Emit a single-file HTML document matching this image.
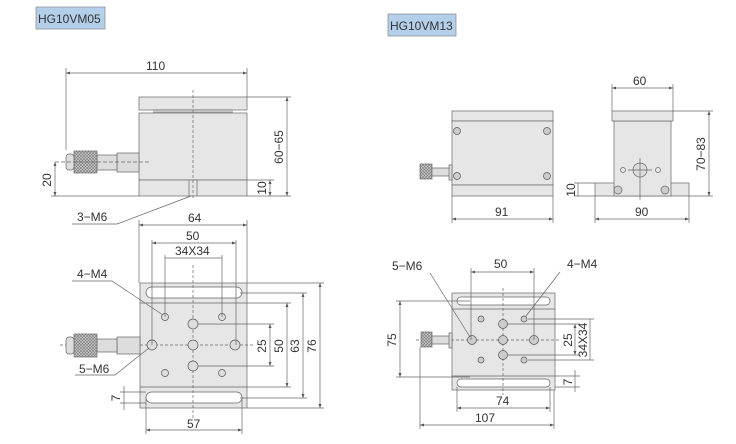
<!DOCTYPE html>
<html><head><meta charset="utf-8"><style>
html,body{margin:0;padding:0;background:#fff;}
svg{display:block;}
text{font-family:"Liberation Sans",sans-serif;font-size:12px;fill:#333;}
</style></head><body>
<svg width="736" height="444" viewBox="0 0 736 444" xmlns="http://www.w3.org/2000/svg">
<defs>
<marker id="a" viewBox="0 0 8 6" refX="8" refY="3" markerWidth="6" markerHeight="5" orient="auto-start-reverse"><path d="M0,0 L8,3 L0,6z" fill="#555"/></marker>
<pattern id="kn" width="3" height="3" patternUnits="userSpaceOnUse"><rect width="3" height="3" fill="#ccc"/><path d="M0,0L3,3M3,0L0,3" stroke="#777" stroke-width="0.6"/></pattern>
</defs>
<g stroke="#666" stroke-width="0.7" fill="none">
<!-- labels -->
<rect x="36" y="7" width="69" height="22" fill="#b4cfe9" stroke="#888"/>
<rect x="388" y="14" width="68" height="22" fill="#b4cfe9" stroke="#888"/>

<!-- LEFT TOP VIEW -->
<rect x="139" y="97" width="108" height="13" fill="#e6e6e6"/>
<line x1="153" y1="110" x2="233" y2="110"/><line x1="153" y1="112" x2="233" y2="112"/>
<rect x="139" y="113" width="108" height="67" fill="#e6e6e6"/>
<rect x="139" y="180" width="108" height="16" fill="#e6e6e6"/>
<line x1="193" y1="90" x2="193" y2="198" stroke-dasharray="3,2"/>
<line x1="189" y1="180" x2="189" y2="196"/><line x1="197" y1="180" x2="197" y2="196"/>
<!-- micrometer -->
<rect x="117" y="153" width="22" height="19" fill="#ddd"/>
<rect x="97" y="155" width="20" height="15" fill="#ddd"/>
<rect x="74" y="151" width="23" height="22" fill="url(#kn)"/>
<rect x="66" y="154" width="8" height="16" rx="3" fill="#ddd"/>
<line x1="55" y1="162" x2="150" y2="162" stroke-dasharray="4,2"/>
<!-- dims -->
<line x1="66" y1="73" x2="247" y2="73" marker-start="url(#a)" marker-end="url(#a)"/>
<line x1="66" y1="68" x2="66" y2="150"/><line x1="247" y1="68" x2="247" y2="97"/>
<line x1="287" y1="97" x2="287" y2="196" marker-start="url(#a)" marker-end="url(#a)"/>
<line x1="247" y1="97" x2="291" y2="97"/><line x1="247" y1="196" x2="291" y2="196"/>
<line x1="270" y1="180" x2="270" y2="196" marker-start="url(#a)" marker-end="url(#a)"/>
<line x1="247" y1="180" x2="274" y2="180"/>
<line x1="55" y1="162" x2="55" y2="196" marker-start="url(#a)" marker-end="url(#a)"/>
<line x1="51" y1="196" x2="139" y2="196"/>
<polyline points="72,224 117,224 191,196"/>

<!-- LEFT BOTTOM VIEW -->
<rect x="140" y="283" width="107" height="125" fill="#e6e6e6"/>
<line x1="140" y1="303" x2="247" y2="303"/><line x1="140" y1="387" x2="247" y2="387"/>
<rect x="146" y="287" width="96" height="11" rx="5.5" fill="#fff"/>
<rect x="146" y="392" width="96" height="11" rx="5.5" fill="#fff"/>
<line x1="193" y1="265" x2="193" y2="420" stroke-dasharray="3,2"/>
<line x1="60" y1="345" x2="255" y2="345" stroke-dasharray="3,2"/>
<rect x="117" y="337" width="23" height="17" fill="#ddd"/>
<rect x="97" y="339" width="20" height="13" fill="#ddd"/>
<rect x="74" y="334" width="23" height="23" fill="url(#kn)"/>
<rect x="66" y="337" width="8" height="17" rx="3" fill="#ddd"/>
<g fill="#ddd" stroke="#555">
<circle cx="165" cy="317" r="3.5"/><circle cx="222" cy="317" r="3.5"/><circle cx="165" cy="373" r="3.5"/><circle cx="222" cy="373" r="3.5"/>
<circle cx="193" cy="324" r="5"/><circle cx="193" cy="345" r="5"/><circle cx="193" cy="366" r="5"/><circle cx="152" cy="345" r="5"/><circle cx="235" cy="345" r="5"/>
</g>
<line x1="139" y1="225" x2="247" y2="225" marker-start="url(#a)" marker-end="url(#a)"/>
<line x1="139" y1="220" x2="139" y2="283"/><line x1="247" y1="220" x2="247" y2="283"/>
<line x1="152" y1="243" x2="236" y2="243" marker-start="url(#a)" marker-end="url(#a)"/>
<line x1="152" y1="240" x2="152" y2="345"/><line x1="236" y1="240" x2="236" y2="345"/>
<line x1="165" y1="258" x2="222" y2="258"/>
<line x1="165" y1="255" x2="165" y2="317"/><line x1="222" y1="255" x2="222" y2="317"/>
<line x1="270" y1="324" x2="270" y2="366" marker-start="url(#a)" marker-end="url(#a)"/>
<line x1="198" y1="324" x2="274" y2="324"/><line x1="198" y1="366" x2="274" y2="366"/>
<line x1="287" y1="303" x2="287" y2="387" marker-start="url(#a)" marker-end="url(#a)"/>
<line x1="247" y1="303" x2="291" y2="303"/><line x1="247" y1="387" x2="291" y2="387"/>
<line x1="303" y1="293" x2="303" y2="398" marker-start="url(#a)" marker-end="url(#a)"/>
<line x1="240" y1="293" x2="307" y2="293"/><line x1="240" y1="398" x2="307" y2="398"/>
<line x1="320" y1="283" x2="320" y2="408" marker-start="url(#a)" marker-end="url(#a)"/>
<line x1="247" y1="283" x2="324" y2="283"/><line x1="247" y1="408" x2="324" y2="408"/>
<line x1="124" y1="386" x2="124" y2="410"/>
<line x1="120" y1="392" x2="146" y2="392"/><line x1="120" y1="403" x2="146" y2="403"/>
<line x1="146" y1="430" x2="242" y2="430" marker-start="url(#a)" marker-end="url(#a)"/>
<line x1="146" y1="398" x2="146" y2="434"/><line x1="242" y1="398" x2="242" y2="434"/>
<polyline points="72,281 112,281 163,315"/>
<polyline points="75,375 115,375 149,348"/>

<!-- RIGHT SIDE VIEW -->
<rect x="452" y="111" width="101" height="10" fill="#e6e6e6"/>
<line x1="462" y1="123" x2="543" y2="123"/>
<rect x="452" y="121" width="101" height="64" fill="#e6e6e6"/>
<rect x="452" y="185" width="101" height="11" fill="#e6e6e6"/>
<g fill="#ccc" stroke="#555">
<circle cx="457" cy="131" r="3.5"/><circle cx="547" cy="131" r="3.5"/><circle cx="457" cy="176" r="3.5"/><circle cx="547" cy="176" r="3.5"/>
</g>
<rect x="420" y="164" width="12" height="15" fill="url(#kn)"/>
<rect x="432" y="168" width="18" height="8" fill="#ddd"/>
<rect x="449" y="165" width="3" height="15" fill="#ddd"/>
<line x1="452" y1="219" x2="553" y2="219" marker-start="url(#a)" marker-end="url(#a)"/>
<line x1="452" y1="196" x2="452" y2="223"/><line x1="553" y1="196" x2="553" y2="223"/>
<!-- FRONT VIEW -->
<rect x="595" y="183" width="94" height="13" fill="#e6e6e6"/>
<rect x="614" y="121" width="57" height="75" fill="#e6e6e6"/>
<rect x="612" y="111" width="61" height="10" fill="#e6e6e6"/>
<circle cx="640" cy="170" r="7" fill="#ddd"/>
<line x1="628" y1="170" x2="652" y2="170"/><line x1="640" y1="158" x2="640" y2="200"/>
<circle cx="623" cy="170" r="2.5"/><circle cx="658" cy="170" r="2.5"/>
<circle cx="618" cy="190" r="4" fill="#ccc"/><circle cx="665" cy="190" r="4" fill="#ccc"/>
<line x1="612" y1="88" x2="673" y2="88" marker-start="url(#a)" marker-end="url(#a)"/>
<line x1="612" y1="84" x2="612" y2="111"/><line x1="673" y1="84" x2="673" y2="111"/>
<line x1="709" y1="111" x2="709" y2="196" marker-start="url(#a)" marker-end="url(#a)"/>
<line x1="673" y1="111" x2="713" y2="111"/><line x1="689" y1="196" x2="713" y2="196"/>
<line x1="578" y1="183" x2="578" y2="196"/>
<line x1="574" y1="183" x2="595" y2="183"/><line x1="574" y1="196" x2="595" y2="196"/>
<line x1="595" y1="219" x2="689" y2="219" marker-start="url(#a)" marker-end="url(#a)"/>
<line x1="595" y1="196" x2="595" y2="223"/><line x1="689" y1="196" x2="689" y2="223"/>

<!-- RIGHT BOTTOM VIEW -->
<rect x="452" y="293" width="103" height="97" fill="#e6e6e6"/>
<line x1="452" y1="309" x2="555" y2="309"/><line x1="452" y1="376" x2="555" y2="376"/>
<rect x="457" y="297" width="93" height="8" rx="4" fill="#fff"/>
<rect x="457" y="379" width="93" height="8" rx="4" fill="#fff"/>
<line x1="503" y1="288" x2="503" y2="395" stroke-dasharray="3,2"/>
<line x1="416" y1="340" x2="560" y2="340" stroke-dasharray="3,2"/>
<rect x="421" y="332" width="11" height="15" fill="url(#kn)"/>
<rect x="432" y="336" width="18" height="8" fill="#ddd"/>
<rect x="449" y="333" width="3" height="15" fill="#ddd"/>
<g fill="#ccc" stroke="#555">
<circle cx="481" cy="319" r="3"/><circle cx="524" cy="319" r="3"/><circle cx="481" cy="360" r="3"/><circle cx="524" cy="360" r="3"/>
<circle cx="503" cy="324" r="4.5"/><circle cx="503" cy="340" r="4.5"/><circle cx="503" cy="355" r="4.5"/><circle cx="472" cy="340" r="4.5"/><circle cx="534" cy="340" r="4.5"/>
</g>
<line x1="471" y1="272" x2="534" y2="272" marker-start="url(#a)" marker-end="url(#a)"/>
<line x1="471" y1="268" x2="471" y2="340"/><line x1="534" y1="268" x2="534" y2="340"/>
<line x1="400" y1="301" x2="400" y2="377" marker-start="url(#a)" marker-end="url(#a)"/>
<line x1="396" y1="301" x2="470" y2="301"/><line x1="396" y1="377" x2="470" y2="377"/>
<line x1="575" y1="324" x2="575" y2="355" marker-start="url(#a)" marker-end="url(#a)"/>
<line x1="508" y1="324" x2="580" y2="324"/><line x1="508" y1="355" x2="580" y2="355"/>
<line x1="590" y1="319" x2="590" y2="360"/>
<line x1="528" y1="319" x2="594" y2="319"/><line x1="528" y1="360" x2="594" y2="360"/>
<line x1="575" y1="370" x2="575" y2="392"/>
<line x1="555" y1="376" x2="580" y2="376"/><line x1="555" y1="387" x2="580" y2="387"/>
<line x1="457" y1="408" x2="550" y2="408" marker-start="url(#a)" marker-end="url(#a)"/>
<line x1="457" y1="387" x2="457" y2="412"/><line x1="550" y1="387" x2="550" y2="412"/>
<line x1="420" y1="425" x2="554" y2="425" marker-start="url(#a)" marker-end="url(#a)"/>
<line x1="420" y1="347" x2="420" y2="429"/><line x1="554" y1="390" x2="554" y2="429"/>
<line x1="430" y1="273" x2="470" y2="337"/>
<line x1="560" y1="272" x2="526" y2="316"/>
</g>
<g>
<text x="38" y="23" font-size="12">HG10VM05</text>
<text x="390" y="30" font-size="12">HG10VM13</text>
<text x="146" y="70">110</text>
<text x="283" y="147" text-anchor="middle" transform="rotate(-90 283 147)">60−65</text>
<text x="266" y="188" text-anchor="middle" transform="rotate(-90 266 188)">10</text>
<text x="51" y="180" text-anchor="middle" transform="rotate(-90 51 180)">20</text>
<text x="77" y="221">3−M6</text>
<text x="188" y="222">64</text>
<text x="186" y="240">50</text>
<text x="175" y="255">34X34</text>
<text x="77" y="278">4−M4</text>
<text x="79" y="373">5−M6</text>
<text x="266" y="346" text-anchor="middle" transform="rotate(-90 266 346)">25</text>
<text x="283" y="346" text-anchor="middle" transform="rotate(-90 283 346)">50</text>
<text x="299" y="346" text-anchor="middle" transform="rotate(-90 299 346)">63</text>
<text x="316" y="346" text-anchor="middle" transform="rotate(-90 316 346)">76</text>
<text x="120" y="398" text-anchor="middle" transform="rotate(-90 120 398)">7</text>
<text x="187" y="428">57</text>
<text x="633" y="85">60</text>
<text x="705" y="154" text-anchor="middle" transform="rotate(-90 705 154)">70−83</text>
<text x="575" y="190" text-anchor="middle" transform="rotate(-90 575 190)">10</text>
<text x="495" y="216">91</text>
<text x="635" y="216">90</text>
<text x="494" y="268">50</text>
<text x="392" y="270">5−M6</text>
<text x="567" y="268">4−M4</text>
<text x="396" y="340" text-anchor="middle" transform="rotate(-90 396 340)">75</text>
<text x="572" y="340" text-anchor="middle" transform="rotate(-90 572 340)">25</text>
<text x="587" y="340" text-anchor="middle" transform="rotate(-90 587 340)">34X34</text>
<text x="572" y="382" text-anchor="middle" transform="rotate(-90 572 382)">7</text>
<text x="496" y="405">74</text>
<text x="475" y="422">107</text>
</g>
</svg>
</body></html>
